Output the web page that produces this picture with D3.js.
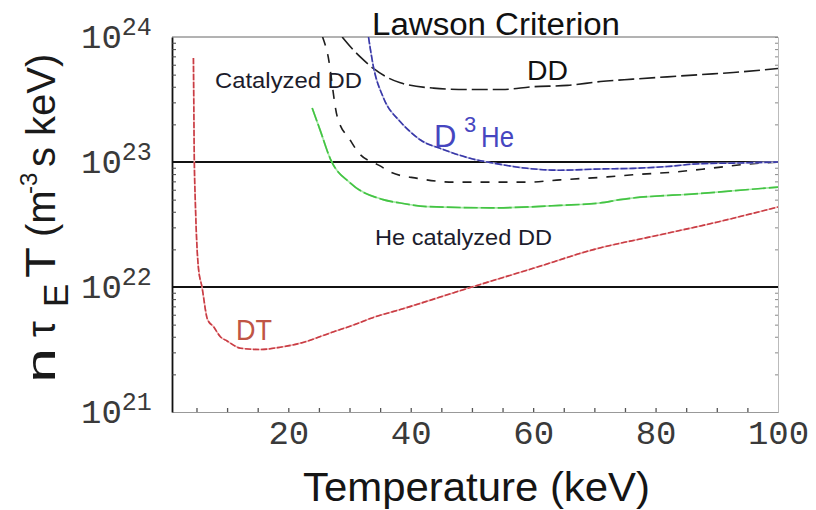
<!DOCTYPE html>
<html>
<head>
<meta charset="utf-8">
<script src="https://cdn.jsdelivr.net/npm/d3@7/dist/d3.min.js"></script>
<style>
  html, body { margin: 0; padding: 0; background: #fff; }
  svg { display: block; }
</style>
</head>
<body>
<svg id="chart" width="816" height="510"></svg>
<script>
// Lawson criterion curves: n·tauE·T (m^-3 s keV) versus temperature (keV)

// D-T
const dtTemp  = [4.5, 4.65, 4.8, 5.3, 5.9, 6.8, 7.8, 8.9, 10, 12.2, 15.4, 18.7, 22.4, 26.9, 31.3, 33.4, 38.3, 50, 60, 70, 80, 90, 100];
const dtValue = [6.8e23, 1.0e23, 5.0e22, 1.45e22, 1.0e22, 5.5e21, 4.8e21, 4.0e21, 3.7e21, 3.24e21, 3.16e21, 3.3e21, 3.6e21, 4.3e21, 5.1e21, 5.6e21, 6.6e21, 1.0e22, 1.41e22, 2.0e22, 2.57e22, 3.3e22, 4.37e22];

// He-catalyzed D-D
const heCatTemp  = [23.9, 25.2, 26.9, 30.1, 35.5, 38.3, 42.7, 53.5, 64.4, 70.9, 74.2, 87.3, 100];
const heCatValue = [2.7e23, 1.8e23, 1.05e23, 6.8e22, 5.0e22, 4.7e22, 4.4e22, 4.3e22, 4.5e22, 4.7e22, 5.0e22, 5.6e22, 6.3e22];

// Catalyzed D-D
const catTemp  = [25.6, 26.4, 28.0, 30.1, 31.4, 35.0, 36.7, 41.1, 47.0, 53.5, 59.0, 64.4, 72.1, 76.3, 82.9, 88.9, 94.9, 100];
const catValue = [1.0e24, 7.4e23, 2.3e23, 1.5e23, 1.2e23, 9.3e22, 8.3e22, 7.4e22, 6.9e22, 6.9e22, 6.9e22, 7.2e22, 7.6e22, 7.9e22, 8.3e22, 8.9e22, 9.6e22, 1.0e23];

// D-D
const ddTemp  = [28.8, 30.3, 31.8, 33.9, 36.0, 38.3, 43.7, 49.2, 54.9, 60.0, 65.6, 71.0, 76.3, 81.9, 87.3, 92.7, 100];
const ddValue = [1.0e24, 8.2e23, 6.9e23, 5.6e23, 4.8e23, 4.3e23, 3.9e23, 3.8e23, 3.8e23, 4.0e23, 4.1e23, 4.4e23, 4.6e23, 4.8e23, 5.0e23, 5.2e23, 5.6e23];

// D-3He
const dheTemp  = [33.1, 33.9, 35.5, 38.3, 39.9, 41.6, 45.3, 49.7, 53.5, 59.0, 64.4, 71.0, 76.3, 81.9, 87.3, 92.7, 100];
const dheValue = [1.0e24, 5.8e23, 3.3e23, 2.1e23, 1.75e23, 1.5e23, 1.26e23, 1.07e23, 9.8e22, 8.9e22, 8.6e22, 8.8e22, 8.9e22, 9.2e22, 9.7e22, 9.8e22, 1.0e23];

// Axis ticks and labels
const xTicks = [20, 40, 60, 80, 100];
const xMinorTicks = d3.range(5, 100, 5);
const yTicks = [1e21, 1e22, 1e23, 1e24];
const yTickExp = ["21", "22", "23", "24"];
const gridValues = [1e22, 1e23];

const title = "Lawson Criterion";
const xTitle = "Temperature (keV)";

const svg = d3.select("#chart");
const plotLeft = 172, plotRight = 778, plotTop = 37, plotBottom = 412;

const x = d3.scaleLinear().domain([1, 100]).range([plotLeft, plotRight]);
const y = d3.scaleLog().domain([1e21, 1e24]).range([plotBottom, plotTop]);

svg.append("defs").append("clipPath").attr("id", "plotClip")
  .append("rect").attr("x", plotLeft).attr("y", plotTop)
  .attr("width", plotRight - plotLeft).attr("height", plotBottom - plotTop);

// Frame: top and right edges
svg.append("line").attr("x1", plotLeft).attr("x2", plotRight).attr("y1", plotTop).attr("y2", plotTop)
  .attr("stroke", "#666").attr("stroke-width", 1);
const rightAxis = d3.axisRight(y)
  .tickValues(d3.range(21, 24).flatMap(e => d3.range(1, 10).map(m => m * Math.pow(10, e))).concat([1e24]))
  .tickSize(-3).tickFormat("");
svg.append("g").attr("transform", `translate(${plotRight},0)`).call(rightAxis)
  .call(g => g.select(".domain").attr("stroke", "#bbb"))
  .call(g => g.selectAll(".tick line").attr("stroke", "#888"));

// Bottom axis with minor ticks
const xMinorAxis = d3.axisBottom(x).tickValues(xMinorTicks).tickSize(-4).tickSizeOuter(0).tickFormat("");
svg.append("g").attr("transform", `translate(0,${plotBottom})`).call(xMinorAxis)
  .call(g => g.select(".domain").attr("stroke", "#999"))
  .call(g => g.selectAll(".tick line").attr("stroke", "#555").attr("stroke-width", 1.3));

// Bottom tick labels
const xLabelAxis = d3.axisBottom(x).tickValues(xTicks).tickSize(0).tickFormat(d3.format("d"));
svg.append("g").attr("transform", `translate(0,${plotBottom})`).call(xLabelAxis)
  .call(g => g.select(".domain").remove())
  .call(g => g.selectAll("text")
    .attr("y", 32).attr("dy", 0)
    .attr("font-family", "'Liberation Mono', 'Courier New', monospace")
    .attr("font-size", 34).attr("fill", "#3a3a3a"));

// Left axis with logarithmic minor ticks
const yMinor = d3.range(21, 24).flatMap(e => d3.range(2, 10).map(m => m * Math.pow(10, e)));
const yAxis = d3.axisLeft(y).tickValues(yMinor).tickSize(-4).tickSizeOuter(0).tickFormat("");
svg.append("g").attr("transform", `translate(${plotLeft},0)`).call(yAxis)
  .call(g => g.select(".domain").attr("stroke", "#111").attr("stroke-width", 1.8))
  .call(g => g.selectAll(".tick line").attr("stroke", "#444"));

// Left tick labels: 10 with exponent
const yLab = svg.append("g")
  .attr("font-family", "'Liberation Mono', 'Courier New', monospace")
  .attr("fill", "#3a3a3a");
yTicks.forEach((v, i) => {
  const t = yLab.append("text").attr("x", 81).attr("y", y(v) + 11).attr("font-size", 34);
  t.append("tspan").text("10");
  t.append("tspan").attr("font-size", 25).attr("dy", -13).text(yTickExp[i]);
});

// Reference levels
svg.append("g").selectAll("line").data(gridValues).join("line")
  .attr("x1", plotLeft).attr("x2", plotRight)
  .attr("y1", d => y(d)).attr("y2", d => y(d))
  .attr("stroke", "#111").attr("stroke-width", 2);

// Curves
const line = d3.line().x(d => x(d.t)).y(d => y(d.v)).curve(d3.curveMonotoneX);
const zip = (ts, vs) => ts.map((t, i) => ({ t, v: vs[i] }));
const curves = svg.append("g").attr("clip-path", "url(#plotClip)").attr("fill", "none");

function drawCurve(data, under, stroke, dash, width) {
  if (under) {
    curves.append("path").attr("d", line(data)).attr("stroke", under).attr("stroke-width", width);
  }
  curves.append("path").attr("d", line(data))
    .attr("stroke", stroke).attr("stroke-width", width)
    .attr("stroke-dasharray", dash);
}

drawCurve(zip(dtTemp, dtValue), "#f2b3b3", "#c83c44", "6,2", 1.6);
drawCurve(zip(heCatTemp, heCatValue), "#a8e8a8", "#44c444", "14,3", 1.7);
drawCurve(zip(catTemp, catValue), null, "#1e1e1e", "9,9", 1.6);
drawCurve(zip(ddTemp, ddValue), null, "#1e1e1e", "16,5", 1.6);
drawCurve(zip(dheTemp, dheValue), "#b8b8e0", "#3838a8", "7,2", 1.6);

// Title and axis titles
svg.append("text").attr("x", 372).attr("y", 35)
  .attr("font-family", "'Liberation Sans', Arial, sans-serif").attr("font-size", 31)
  .attr("textLength", 248).attr("lengthAdjust", "spacingAndGlyphs")
  .attr("fill", "#111").text(title);

svg.append("text").attr("x", 303).attr("y", 501)
  .attr("font-family", "'Liberation Sans', Arial, sans-serif").attr("font-size", 40)
  .attr("textLength", 347).attr("lengthAdjust", "spacingAndGlyphs")
  .attr("fill", "#151515").text(xTitle);

const yTitle = svg.append("g")
  .attr("transform", "translate(55,383) rotate(-90)")
  .attr("font-family", "'Liberation Sans', Arial, sans-serif")
  .attr("fill", "#1a1a1a");
yTitle.append("text").attr("x", 0).attr("y", 0).attr("font-size", 40)
  .attr("textLength", 35).attr("lengthAdjust", "spacingAndGlyphs").text("n");
yTitle.append("text").attr("x", 46).attr("y", 0).attr("font-size", 40).text("τ");
yTitle.append("text").attr("x", 76).attr("y", 13).attr("font-size", 35).text("E");
yTitle.append("text").attr("x", 105).attr("y", 0).attr("font-size", 42)
  .attr("textLength", 31).attr("lengthAdjust", "spacingAndGlyphs").text("T");
yTitle.append("text").attr("x", 146).attr("y", 0).attr("font-size", 40).text("(m");
yTitle.append("text").attr("x", 189).attr("y", -18).attr("font-size", 24).text("-3");
yTitle.append("text").attr("x", 216).attr("y", 0).attr("font-size", 40).text("s keV)");

// Curve labels
const labels = svg.append("g").attr("font-family", "'Liberation Sans', Arial, sans-serif");
labels.append("text").attr("x", 215).attr("y", 88).attr("font-size", 22)
  .attr("textLength", 147).attr("lengthAdjust", "spacingAndGlyphs")
  .attr("fill", "#1c1c2c").text("Catalyzed DD");
labels.append("text").attr("x", 375).attr("y", 245).attr("font-size", 22)
  .attr("textLength", 177).attr("lengthAdjust", "spacingAndGlyphs")
  .attr("fill", "#1c1c2c").text("He catalyzed DD");
labels.append("text").attr("x", 527).attr("y", 80).attr("font-size", 28)
  .attr("textLength", 41).attr("lengthAdjust", "spacingAndGlyphs")
  .attr("fill", "#111").text("DD");
labels.append("text").attr("x", 434).attr("y", 147).attr("font-size", 31)
  .attr("fill", "#4646c0").text("D");
labels.append("text").attr("x", 464).attr("y", 132).attr("font-size", 22)
  .attr("fill", "#4646c0").text("3");
labels.append("text").attr("x", 481).attr("y", 147).attr("font-size", 30)
  .attr("textLength", 33).attr("lengthAdjust", "spacingAndGlyphs")
  .attr("fill", "#4646c0").text("He");
labels.append("text").attr("x", 236).attr("y", 340).attr("font-size", 29)
  .attr("textLength", 36).attr("lengthAdjust", "spacingAndGlyphs")
  .attr("fill", "#c05545").text("DT");
</script>
</body>
</html>
